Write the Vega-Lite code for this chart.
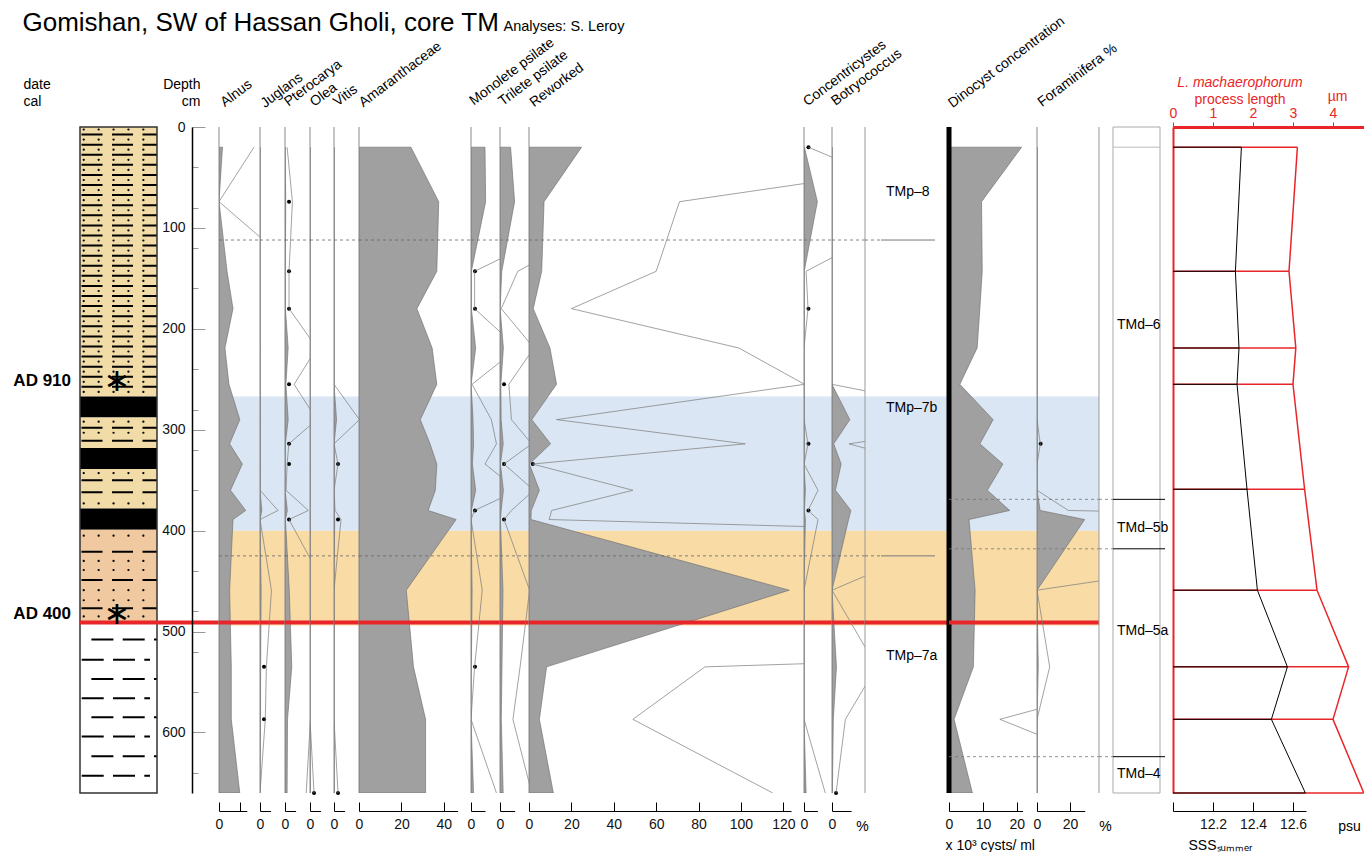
{
"$schema":"https://vega.github.io/schema/vega-lite/v6.json",
"padding":{"left":13,"top":9,"right":0,"bottom":0},
"spacing":0,
"bounds":"flush",
"resolve":{"scale":{"fill":"independent"}},
"config":{
 "font":"Liberation Sans",
 "view":{"stroke":null},
 "axis":{"grid":false,"labelFontSize":14,"labelColor":"#111","domainColor":"#000","tickColor":"#000","titleFontWeight":"normal","titleFontSize":14,"titleColor":"#000","labelFlush":false,"labelOverlap":false,"labelBound":false},
 "axisBottom":{"offset":18,"tickSize":-9,"labelPadding":15},
 "title":{"anchor":"start","frame":"group","angle":-37,"align":"left","baseline":"alphabetic","fontSize":14,"fontWeight":"normal","offset":16,"color":"#000"}
},
"datasets":{
 "s":[
  {"d":20,"Alnus":1.65,"Juglans":0,"Pterocarya":0.1,"Olea":0,"Vitis":0,"Amaranthaceae":24.5,"Monolete":6.6,"Trilete":5.0,"Reworked":24.8,"Concentricystes":0.2,"Botryococcus":0,"Dinocyst":21.4,"Foraminifera":0},
  {"d":74,"Alnus":0,"Juglans":0,"Pterocarya":0.35,"Olea":0,"Vitis":0,"Amaranthaceae":37.6,"Monolete":6.9,"Trilete":6.9,"Reworked":7.1,"Concentricystes":6.3,"Botryococcus":0,"Dinocyst":9.6,"Foraminifera":0},
  {"d":143,"Alnus":3.8,"Juglans":0,"Pterocarya":0.19,"Olea":0,"Vitis":0,"Amaranthaceae":36.7,"Monolete":0.17,"Trilete":0.84,"Reworked":6.0,"Concentricystes":0.1,"Botryococcus":0,"Dinocyst":9.8,"Foraminifera":0},
  {"d":180,"Alnus":6.6,"Juglans":0,"Pterocarya":0.19,"Olea":0,"Vitis":0,"Amaranthaceae":27.3,"Monolete":0.17,"Trilete":0.06,"Reworked":2.0,"Concentricystes":0.19,"Botryococcus":0,"Dinocyst":9.1,"Foraminifera":0},
  {"d":219,"Alnus":2.8,"Juglans":0,"Pterocarya":1.5,"Olea":0,"Vitis":0,"Amaranthaceae":34.5,"Monolete":2.2,"Trilete":1.6,"Reworked":9.9,"Concentricystes":0,"Botryococcus":0,"Dinocyst":8.3,"Foraminifera":0},
  {"d":255,"Alnus":4.7,"Juglans":0,"Pterocarya":0.43,"Olea":0,"Vitis":0,"Amaranthaceae":36.7,"Monolete":0.05,"Trilete":0.42,"Reworked":13.0,"Concentricystes":0,"Botryococcus":0,"Dinocyst":3.2,"Foraminifera":0},
  {"d":290,"Alnus":9.8,"Juglans":0,"Pterocarya":1.5,"Olea":0,"Vitis":1.2,"Amaranthaceae":28.9,"Monolete":0.96,"Trilete":0.54,"Reworked":1.3,"Concentricystes":0,"Botryococcus":8.4,"Dinocyst":13.0,"Foraminifera":0},
  {"d":314,"Alnus":5.0,"Juglans":0,"Pterocarya":0.18,"Olea":0,"Vitis":0,"Amaranthaceae":33.5,"Monolete":1.2,"Trilete":1.5,"Reworked":10.2,"Concentricystes":0.19,"Botryococcus":0.8,"Dinocyst":9.1,"Foraminifera":0.2},
  {"d":334,"Alnus":11.0,"Juglans":0,"Pterocarya":0.1,"Olea":0,"Vitis":0.19,"Amaranthaceae":36.7,"Monolete":0.66,"Trilete":0.19,"Reworked":0.17,"Concentricystes":0,"Botryococcus":4.3,"Dinocyst":15.9,"Foraminifera":0},
  {"d":360,"Alnus":5.4,"Juglans":0,"Pterocarya":0.05,"Olea":0,"Vitis":0,"Amaranthaceae":36.0,"Monolete":2.2,"Trilete":1.6,"Reworked":4.9,"Concentricystes":0.66,"Botryococcus":1.6,"Dinocyst":11.3,"Foraminifera":0},
  {"d":380,"Alnus":12.6,"Juglans":0.85,"Pterocarya":1.1,"Olea":0,"Vitis":0.05,"Amaranthaceae":32.6,"Monolete":0.17,"Trilete":0.54,"Reworked":1.07,"Concentricystes":0.19,"Botryococcus":8.9,"Dinocyst":17.9,"Foraminifera":1.9},
  {"d":389,"Alnus":6.6,"Juglans":0,"Pterocarya":0.19,"Olea":0,"Vitis":0.33,"Amaranthaceae":45.8,"Monolete":0,"Trilete":0.19,"Reworked":0.95,"Concentricystes":0.66,"Botryococcus":7.8,"Dinocyst":5.9,"Foraminifera":28.9},
  {"d":459,"Alnus":5.0,"Juglans":0.54,"Pterocarya":2.0,"Olea":0,"Vitis":0,"Amaranthaceae":22.3,"Monolete":0.53,"Trilete":1.4,"Reworked":122.8,"Concentricystes":0,"Botryococcus":0,"Dinocyst":7.7,"Foraminifera":0},
  {"d":535,"Alnus":5.8,"Juglans":0.3,"Pterocarya":3.2,"Olea":0,"Vitis":0,"Amaranthaceae":25.7,"Monolete":0.17,"Trilete":0.95,"Reworked":8.3,"Concentricystes":0,"Botryococcus":2.1,"Dinocyst":7.2,"Foraminifera":0.77},
  {"d":587,"Alnus":5.8,"Juglans":0.25,"Pterocarya":1.2,"Olea":0,"Vitis":0,"Amaranthaceae":31.4,"Monolete":0,"Trilete":0.61,"Reworked":4.9,"Concentricystes":0,"Botryococcus":0.63,"Dinocyst":1.5,"Foraminifera":0},
  {"d":660,"Alnus":9.8,"Juglans":0,"Pterocarya":1.0,"Olea":0.19,"Vitis":0.19,"Amaranthaceae":31.4,"Monolete":1.2,"Trilete":1.5,"Reworked":11.5,"Concentricystes":1.0,"Botryococcus":0.19,"Dinocyst":6.9,"Foraminifera":0}
 ],
 "tr":[
  {"t":"Juglans","d":535},{"t":"Juglans","d":587},
  {"t":"Pterocarya","d":74},{"t":"Pterocarya","d":143},{"t":"Pterocarya","d":180},{"t":"Pterocarya","d":255},{"t":"Pterocarya","d":314},{"t":"Pterocarya","d":334},{"t":"Pterocarya","d":389},
  {"t":"Olea","d":660},
  {"t":"Vitis","d":334},{"t":"Vitis","d":389},{"t":"Vitis","d":660},
  {"t":"Monolete","d":143},{"t":"Monolete","d":180},{"t":"Monolete","d":380},{"t":"Monolete","d":535},
  {"t":"Trilete","d":255},{"t":"Trilete","d":334},{"t":"Trilete","d":389},
  {"t":"Reworked","d":334},
  {"t":"Concentricystes","d":20},{"t":"Concentricystes","d":180},{"t":"Concentricystes","d":314},{"t":"Concentricystes","d":380},
  {"t":"Botryococcus","d":660},
  {"t":"Foraminifera","d":314}
 ],
 "bands":[{"k":"a","top":267,"bot":400},{"k":"b","top":400,"bot":494}],
 "hz":[{"d":491}],
 "tmpb":[{"d":112},{"d":425}],
 "tmdb":[{"d":369},{"d":418},{"d":624}],
 "tmpz":[{"d":64,"z":"TMp–8"},{"d":278,"z":"TMp–7b"},{"d":524,"z":"TMp–7a"}],
 "tmdz":[{"d":196,"z":"TMd–6"},{"d":397,"z":"TMd–5b"},{"d":499,"z":"TMd–5a"},{"d":641,"z":"TMd–4"}],
 "dates":[{"d":252,"z":"AD 910"},{"d":483,"z":"AD 400"}],
 "lith":[{"top":0,"bot":267,"k":"silt"},{"top":267,"bot":288,"k":"dark"},{"top":288,"bot":318,"k":"silt"},{"top":318,"bot":339,"k":"dark"},{"top":339,"bot":378,"k":"silt"},{"top":378,"bot":399,"k":"dark"},{"top":399,"bot":492,"k":"sand"},{"top":492,"bot":660,"k":"clay"}],
 "pat":[
  {"d":2.5,"k":"o"},{"d":12.5,"k":"o"},{"d":22.5,"k":"o"},{"d":32.5,"k":"o"},{"d":42.5,"k":"o"},{"d":52.5,"k":"o"},{"d":62.5,"k":"o"},{"d":72.5,"k":"o"},{"d":82.5,"k":"o"},{"d":92.5,"k":"o"},{"d":102.5,"k":"o"},{"d":112.5,"k":"o"},{"d":122.5,"k":"o"},{"d":132.5,"k":"o"},{"d":142.5,"k":"o"},{"d":152.5,"k":"o"},{"d":162.5,"k":"o"},{"d":172.5,"k":"o"},{"d":182.5,"k":"o"},{"d":192.5,"k":"o"},{"d":202.5,"k":"o"},{"d":212.5,"k":"o"},{"d":222.5,"k":"o"},{"d":232.5,"k":"o"},{"d":242.5,"k":"o"},{"d":252.5,"k":"o"},{"d":262.5,"k":"o"},
  {"d":292,"k":"o"},{"d":303,"k":"o"},{"d":343,"k":"o"},{"d":373,"k":"o"},{"d":405,"k":"o"},{"d":430,"k":"o"},{"d":439,"k":"o"},{"d":459,"k":"o"},{"d":469,"k":"o"},{"d":485,"k":"o"},
  {"d":7.5,"k":"s"},{"d":17.5,"k":"s"},{"d":27.5,"k":"s"},{"d":37.5,"k":"s"},{"d":47.5,"k":"s"},{"d":57.5,"k":"s"},{"d":67.5,"k":"s"},{"d":77.5,"k":"s"},{"d":87.5,"k":"s"},{"d":97.5,"k":"s"},{"d":107.5,"k":"s"},{"d":117.5,"k":"s"},{"d":127.5,"k":"s"},{"d":137.5,"k":"s"},{"d":147.5,"k":"s"},{"d":157.5,"k":"s"},{"d":167.5,"k":"s"},{"d":177.5,"k":"s"},{"d":187.5,"k":"s"},{"d":197.5,"k":"s"},{"d":207.5,"k":"s"},{"d":217.5,"k":"s"},{"d":227.5,"k":"s"},{"d":237.5,"k":"s"},{"d":247.5,"k":"s"},{"d":257.5,"k":"s"},
  {"d":298,"k":"s"},{"d":311,"k":"s"},{"d":350,"k":"s"},{"d":362,"k":"s"},{"d":421,"k":"s"},{"d":449,"k":"s"},{"d":477,"k":"s"},
  {"d":508,"k":"a"},{"d":547,"k":"a"},{"d":585,"k":"a"},{"d":623.5,"k":"a"},
  {"d":528,"k":"b"},{"d":566,"k":"b"},{"d":604,"k":"b"},{"d":643,"k":"b"}
 ],
 "sal":[{"d":20,"psl":3.11,"sss":12.342},{"d":143,"psl":2.9,"sss":12.312},{"d":219,"psl":3.07,"sss":12.33},{"d":255,"psl":3.0,"sss":12.32},{"d":359,"psl":3.29,"sss":12.37},{"d":459,"psl":3.6,"sss":12.422},{"d":535,"psl":4.39,"sss":12.572},{"d":587,"psl":4.0,"sss":12.492},{"d":660,"psl":4.77,"sss":12.662}]
},
"hconcat":[
 {"width":139,"height":666,
  "layer":[
   {"data":{"name":"lith"},"mark":{"type":"rect","strokeWidth":0},"encoding":{"x":{"datum":0,"type":"quantitative","scale":{"domain":[0,139],"nice":false},"axis":{"orient":"top","domain":false,"ticks":false,"labels":false,"title":"Gomishan, SW of Hassan Gholi, core TM","titleFontSize":26,"titleX":-58,"titleY":-97,"titleAlign":"left","titleBaseline":"alphabetic","titleAngle":0}},"x2":{"datum":77},"y":{"field":"top","type":"quantitative","scale":{"domain":[0,660],"reverse":true,"nice":false,"zero":false},"axis":{"orient":"right","offset":-27,"values":[0,10,20,30,40,50,60,70,80,90,100,110,120,130,140,150,160,170,180,190,200,210,220,230,240,250,260,270,280,290,300,310,320,330,340,350,360,370,380,390,400,410,420,430,440,450,460,470,480,490,500,510,520,530,540,550,560,570,580,590,600,610,620,630,640,650,660],"tickSize":6,"tickColor":"#999","labels":false,"domain":false,"title":["date","cal"],"titleAngle":0,"titleAlign":"left","titleBaseline":"alphabetic","titleX":-169,"titleY":-39,"titleLineHeight":17}},"y2":{"field":"bot"},"fill":{"field":"k","type":"nominal","scale":{"domain":["silt","dark","sand","clay"],"range":["#f1dba6","#000000","#f0c9a0","#ffffff"]},"legend":null}}},
   {"data":{"name":"pat"},"transform":[{"filter":"datum.k == 'o'"}],"mark":{"type":"rule","color":"#000","strokeWidth":2.2,"strokeCap":"round","strokeDash":[0.1,14.8]},"encoding":{"x":{"datum":3.7,"type":"quantitative"},"x2":{"datum":77},"y":{"field":"d","type":"quantitative"}}},
   {"data":{"name":"pat"},"transform":[{"filter":"datum.k == 's'"}],"mark":{"type":"rule","color":"#000","strokeWidth":2,"strokeDash":[21,9.5]},"encoding":{"x":{"datum":1.5,"type":"quantitative"},"x2":{"datum":77},"y":{"field":"d","type":"quantitative"}}},
   {"data":{"name":"pat"},"transform":[{"filter":"datum.k == 'a'"}],"mark":{"type":"rule","color":"#000","strokeWidth":2,"strokeDash":[22,9.3]},"encoding":{"x":{"datum":11.4,"type":"quantitative"},"x2":{"datum":77},"y":{"field":"d","type":"quantitative"}}},
   {"data":{"name":"pat"},"transform":[{"filter":"datum.k == 'b'"}],"mark":{"type":"rule","color":"#000","strokeWidth":2,"strokeDash":[22,9.3]},"encoding":{"x":{"datum":1.7,"type":"quantitative"},"x2":{"datum":70},"y":{"field":"d","type":"quantitative"}}},
   {"data":{"values":[{}]},"mark":{"type":"rect","fill":"transparent","stroke":"#333","strokeWidth":1.5},"encoding":{"x":{"datum":0,"type":"quantitative"},"x2":{"datum":77},"y":{"datum":0,"type":"quantitative"},"y2":{"datum":660}}},
   {"data":{"name":"hz"},"mark":{"type":"rule","color":"#e8262a","strokeWidth":4},"encoding":{"x":{"datum":0,"type":"quantitative"},"x2":{"datum":139},"y":{"field":"d","type":"quantitative"}}},
   {"data":{"name":"dates"},"mark":{"type":"text","align":"right","baseline":"middle","dx":-9,"fontSize":17,"fontWeight":"bold","color":"#000"},"encoding":{"x":{"datum":0,"type":"quantitative"},"y":{"field":"d","type":"quantitative"},"text":{"field":"z"}}},
   {"data":{"name":"dates"},"mark":{"type":"text","align":"center","baseline":"middle","font":"DejaVu Sans","fontSize":32,"color":"#000"},"encoding":{"x":{"datum":37,"type":"quantitative"},"y":{"field":"d","type":"quantitative"},"text":{"value":"∗"}}}
  ]},
 {"width":41,"height":666,"title":{"text":"Alnus","dx":-1,"offset":-53},"resolve":{"scale":{"x":"independent"}},
  "layer":[
   {"layer":[
    {"data":{"name":"bands"},"mark":{"type":"rect","strokeWidth":0},"encoding":{"x":{"datum":0,"type":"quantitative","scale":{"domain":[0,13.1],"range":[0,27.8],"nice":false},"axis":{"values":[0,10],"labelExpr":"datum.value == 0 ? '0' : ''","title":null}},"x2":{"datum":19.32},"y":{"field":"top","type":"quantitative","scale":{"domain":[0,660],"reverse":true,"nice":false,"zero":false},"axis":{"orient":"left","offset":27,"values":[0,100,200,300,400,500,600],"tickSize":-13,"tickColor":"#999","domainColor":"#000","domainWidth":1.5,"labelPadding":20,"title":["Depth","cm"],"titleAngle":0,"titleAlign":"right","titleBaseline":"alphabetic","titleX":8,"titleY":-39,"titleLineHeight":17}},"y2":{"field":"bot"},"fill":{"field":"k","type":"nominal","scale":{"domain":["a","b"],"range":["#dae6f3","#f9dba6"]},"legend":null}}},
    {"data":{"name":"s"},"mark":{"type":"area","orient":"horizontal","clip":true,"fill":"#a0a0a0","stroke":"#6a6a6a","strokeWidth":0.6},"encoding":{"x":{"field":"Alnus","type":"quantitative","stack":null},"y":{"field":"d","type":"quantitative"}}},
    {"data":{"values":[{}]},"mark":{"type":"rule","color":"#8a8a8a","strokeWidth":1},"encoding":{"x":{"datum":0,"type":"quantitative"},"y":{"datum":0,"type":"quantitative"},"y2":{"datum":660}}},
    {"data":{"name":"tmpb"},"mark":{"type":"rule","color":"#666","strokeWidth":0.8,"strokeDash":[3,3]},"encoding":{"x":{"datum":0,"type":"quantitative"},"x2":{"datum":19.32},"y":{"field":"d","type":"quantitative"}}},
    {"data":{"name":"hz"},"mark":{"type":"rule","color":"#e8262a","strokeWidth":4},"encoding":{"x":{"datum":0,"type":"quantitative"},"x2":{"datum":19.32},"y":{"field":"d","type":"quantitative"}}}
   ]},
   {"data":{"name":"s"},"mark":{"type":"line","clip":true,"color":"#7a7a7a","strokeWidth":0.7},"encoding":{"x":{"field":"Alnus","type":"quantitative","scale":{"domain":[0,1.31],"range":[0,27.8],"nice":false},"axis":null},"y":{"field":"d","type":"quantitative"},"order":{"field":"d","type":"quantitative"}}}
  ]},
 {"width":25,"height":666,"title":{"text":"Juglans","dx":-2,"offset":-12},"resolve":{"scale":{"x":"independent"}},
  "layer":[
   {"layer":[
    {"data":{"name":"bands"},"mark":{"type":"rect","strokeWidth":0},"encoding":{"x":{"datum":0,"type":"quantitative","scale":{"domain":[0,5],"range":[0,10.6],"nice":false},"axis":{"values":[0],"title":null}},"x2":{"datum":11.79},"y":{"field":"top","type":"quantitative","scale":{"domain":[0,660],"reverse":true,"nice":false,"zero":false},"axis":null},"y2":{"field":"bot"},"fill":{"field":"k","type":"nominal","scale":{"domain":["a","b"],"range":["#dae6f3","#f9dba6"]},"legend":null}}},
    {"data":{"name":"s"},"mark":{"type":"area","orient":"horizontal","clip":true,"fill":"#a0a0a0","stroke":"#6a6a6a","strokeWidth":0.6},"encoding":{"x":{"field":"Juglans","type":"quantitative","stack":null},"y":{"field":"d","type":"quantitative"}}},
    {"data":{"values":[{}]},"mark":{"type":"rule","color":"#8a8a8a","strokeWidth":1},"encoding":{"x":{"datum":0,"type":"quantitative"},"y":{"datum":0,"type":"quantitative"},"y2":{"datum":660}}},
    {"data":{"name":"tr"},"transform":[{"filter":"datum.t == 'Juglans'"}],"mark":{"type":"circle","color":"#000","size":16,"opacity":1},"encoding":{"x":{"datum":1.9,"type":"quantitative"},"y":{"field":"d","type":"quantitative"}}},
    {"data":{"name":"tmpb"},"mark":{"type":"rule","color":"#666","strokeWidth":0.8,"strokeDash":[3,3]},"encoding":{"x":{"datum":0,"type":"quantitative"},"x2":{"datum":11.79},"y":{"field":"d","type":"quantitative"}}},
    {"data":{"name":"hz"},"mark":{"type":"rule","color":"#e8262a","strokeWidth":4},"encoding":{"x":{"datum":0,"type":"quantitative"},"x2":{"datum":11.79},"y":{"field":"d","type":"quantitative"}}}
   ]},
   {"data":{"name":"s"},"mark":{"type":"line","clip":true,"color":"#7a7a7a","strokeWidth":0.7},"encoding":{"x":{"field":"Juglans","type":"quantitative","scale":{"domain":[0,0.5],"range":[0,10.6],"nice":false},"axis":null},"y":{"field":"d","type":"quantitative"},"order":{"field":"d","type":"quantitative"}}}
  ]},
 {"width":25,"height":666,"title":{"text":"Pterocarya","dx":-4,"offset":-21},"resolve":{"scale":{"x":"independent"}},
  "layer":[
   {"layer":[
    {"data":{"name":"bands"},"mark":{"type":"rect","strokeWidth":0},"encoding":{"x":{"datum":0,"type":"quantitative","scale":{"domain":[0,5],"range":[0,10.6],"nice":false},"axis":{"values":[0],"title":null}},"x2":{"datum":11.79},"y":{"field":"top","type":"quantitative","scale":{"domain":[0,660],"reverse":true,"nice":false,"zero":false},"axis":null},"y2":{"field":"bot"},"fill":{"field":"k","type":"nominal","scale":{"domain":["a","b"],"range":["#dae6f3","#f9dba6"]},"legend":null}}},
    {"data":{"name":"s"},"mark":{"type":"area","orient":"horizontal","clip":true,"fill":"#a0a0a0","stroke":"#6a6a6a","strokeWidth":0.6},"encoding":{"x":{"field":"Pterocarya","type":"quantitative","stack":null},"y":{"field":"d","type":"quantitative"}}},
    {"data":{"values":[{}]},"mark":{"type":"rule","color":"#8a8a8a","strokeWidth":1},"encoding":{"x":{"datum":0,"type":"quantitative"},"y":{"datum":0,"type":"quantitative"},"y2":{"datum":660}}},
    {"data":{"name":"tr"},"transform":[{"filter":"datum.t == 'Pterocarya'"}],"mark":{"type":"circle","color":"#000","size":16,"opacity":1},"encoding":{"x":{"datum":1.9,"type":"quantitative"},"y":{"field":"d","type":"quantitative"}}},
    {"data":{"name":"tmpb"},"mark":{"type":"rule","color":"#666","strokeWidth":0.8,"strokeDash":[3,3]},"encoding":{"x":{"datum":0,"type":"quantitative"},"x2":{"datum":11.79},"y":{"field":"d","type":"quantitative"}}},
    {"data":{"name":"hz"},"mark":{"type":"rule","color":"#e8262a","strokeWidth":4},"encoding":{"x":{"datum":0,"type":"quantitative"},"x2":{"datum":11.79},"y":{"field":"d","type":"quantitative"}}}
   ]},
   {"data":{"name":"s"},"mark":{"type":"line","clip":true,"color":"#7a7a7a","strokeWidth":0.7},"encoding":{"x":{"field":"Pterocarya","type":"quantitative","scale":{"domain":[0,0.5],"range":[0,10.6],"nice":false},"axis":null},"y":{"field":"d","type":"quantitative"},"order":{"field":"d","type":"quantitative"}}}
  ]},
 {"width":24,"height":666,"title":{"text":"Olea","dx":-3,"offset":1},"resolve":{"scale":{"x":"independent"}},
  "layer":[
   {"layer":[
    {"data":{"name":"bands"},"mark":{"type":"rect","strokeWidth":0},"encoding":{"x":{"datum":0,"type":"quantitative","scale":{"domain":[0,5],"range":[0,10.6],"nice":false},"axis":{"values":[0],"title":null}},"x2":{"datum":11.32},"y":{"field":"top","type":"quantitative","scale":{"domain":[0,660],"reverse":true,"nice":false,"zero":false},"axis":null},"y2":{"field":"bot"},"fill":{"field":"k","type":"nominal","scale":{"domain":["a","b"],"range":["#dae6f3","#f9dba6"]},"legend":null}}},
    {"data":{"name":"s"},"mark":{"type":"area","orient":"horizontal","clip":true,"fill":"#a0a0a0","stroke":"#6a6a6a","strokeWidth":0.6},"encoding":{"x":{"field":"Olea","type":"quantitative","stack":null},"y":{"field":"d","type":"quantitative"}}},
    {"data":{"values":[{}]},"mark":{"type":"rule","color":"#8a8a8a","strokeWidth":1},"encoding":{"x":{"datum":0,"type":"quantitative"},"y":{"datum":0,"type":"quantitative"},"y2":{"datum":660}}},
    {"data":{"name":"tr"},"transform":[{"filter":"datum.t == 'Olea'"}],"mark":{"type":"circle","color":"#000","size":16,"opacity":1},"encoding":{"x":{"datum":1.9,"type":"quantitative"},"y":{"field":"d","type":"quantitative"}}},
    {"data":{"name":"tmpb"},"mark":{"type":"rule","color":"#666","strokeWidth":0.8,"strokeDash":[3,3]},"encoding":{"x":{"datum":0,"type":"quantitative"},"x2":{"datum":11.32},"y":{"field":"d","type":"quantitative"}}},
    {"data":{"name":"hz"},"mark":{"type":"rule","color":"#e8262a","strokeWidth":4},"encoding":{"x":{"datum":0,"type":"quantitative"},"x2":{"datum":11.32},"y":{"field":"d","type":"quantitative"}}}
   ]},
   {"data":{"name":"s"},"mark":{"type":"line","clip":true,"color":"#7a7a7a","strokeWidth":0.7},"encoding":{"x":{"field":"Olea","type":"quantitative","scale":{"domain":[0,0.5],"range":[0,10.6],"nice":false},"axis":null},"y":{"field":"d","type":"quantitative"},"order":{"field":"d","type":"quantitative"}}}
  ]},
 {"width":25,"height":666,"title":{"text":"Vitis","dx":-4,"offset":4},"resolve":{"scale":{"x":"independent"}},
  "layer":[
   {"layer":[
    {"data":{"name":"bands"},"mark":{"type":"rect","strokeWidth":0},"encoding":{"x":{"datum":0,"type":"quantitative","scale":{"domain":[0,5],"range":[0,10.6],"nice":false},"axis":{"values":[0],"title":null}},"x2":{"datum":11.79},"y":{"field":"top","type":"quantitative","scale":{"domain":[0,660],"reverse":true,"nice":false,"zero":false},"axis":null},"y2":{"field":"bot"},"fill":{"field":"k","type":"nominal","scale":{"domain":["a","b"],"range":["#dae6f3","#f9dba6"]},"legend":null}}},
    {"data":{"name":"s"},"mark":{"type":"area","orient":"horizontal","clip":true,"fill":"#a0a0a0","stroke":"#6a6a6a","strokeWidth":0.6},"encoding":{"x":{"field":"Vitis","type":"quantitative","stack":null},"y":{"field":"d","type":"quantitative"}}},
    {"data":{"values":[{}]},"mark":{"type":"rule","color":"#8a8a8a","strokeWidth":1},"encoding":{"x":{"datum":0,"type":"quantitative"},"y":{"datum":0,"type":"quantitative"},"y2":{"datum":660}}},
    {"data":{"name":"tr"},"transform":[{"filter":"datum.t == 'Vitis'"}],"mark":{"type":"circle","color":"#000","size":16,"opacity":1},"encoding":{"x":{"datum":1.9,"type":"quantitative"},"y":{"field":"d","type":"quantitative"}}},
    {"data":{"name":"tmpb"},"mark":{"type":"rule","color":"#666","strokeWidth":0.8,"strokeDash":[3,3]},"encoding":{"x":{"datum":0,"type":"quantitative"},"x2":{"datum":11.79},"y":{"field":"d","type":"quantitative"}}},
    {"data":{"name":"hz"},"mark":{"type":"rule","color":"#e8262a","strokeWidth":4},"encoding":{"x":{"datum":0,"type":"quantitative"},"x2":{"datum":11.79},"y":{"field":"d","type":"quantitative"}}}
   ]},
   {"data":{"name":"s"},"mark":{"type":"line","clip":true,"color":"#7a7a7a","strokeWidth":0.7},"encoding":{"x":{"field":"Vitis","type":"quantitative","scale":{"domain":[0,0.5],"range":[0,10.6],"nice":false},"axis":null},"y":{"field":"d","type":"quantitative"},"order":{"field":"d","type":"quantitative"}}}
  ]},
 {"width":112,"height":666,"title":{"text":"Amaranthaceae","dx":-3,"offset":-41},
  "layer":[
   {"data":{"name":"bands"},"mark":{"type":"rect","strokeWidth":0},"encoding":{"x":{"datum":0,"type":"quantitative","scale":{"domain":[0,46.5],"range":[0,98.6],"nice":false},"axis":{"values":[0,10,20,30,40],"labelExpr":"datum.value % 20 == 0 ? datum.label : ''","title":null}},"x2":{"datum":52.83},"y":{"field":"top","type":"quantitative","scale":{"domain":[0,660],"reverse":true,"nice":false,"zero":false},"axis":null},"y2":{"field":"bot"},"fill":{"field":"k","type":"nominal","scale":{"domain":["a","b"],"range":["#dae6f3","#f9dba6"]},"legend":null}}},
   {"data":{"name":"s"},"mark":{"type":"area","orient":"horizontal","clip":true,"fill":"#a0a0a0","stroke":"#6a6a6a","strokeWidth":0.6},"encoding":{"x":{"field":"Amaranthaceae","type":"quantitative","stack":null},"y":{"field":"d","type":"quantitative"}}},
   {"data":{"values":[{}]},"mark":{"type":"rule","color":"#8a8a8a","strokeWidth":1},"encoding":{"x":{"datum":0,"type":"quantitative"},"y":{"datum":0,"type":"quantitative"},"y2":{"datum":660}}},
   {"data":{"name":"tmpb"},"mark":{"type":"rule","color":"#666","strokeWidth":0.8,"strokeDash":[3,3]},"encoding":{"x":{"datum":0,"type":"quantitative"},"x2":{"datum":52.83},"y":{"field":"d","type":"quantitative"}}},
   {"data":{"name":"hz"},"mark":{"type":"rule","color":"#e8262a","strokeWidth":4},"encoding":{"x":{"datum":0,"type":"quantitative"},"x2":{"datum":52.83},"y":{"field":"d","type":"quantitative"}}}
  ]},
 {"width":29,"height":666,"title":{"text":"Monolete psilate","dx":-5,"offset":-40},"resolve":{"scale":{"x":"independent"}},
  "layer":[
   {"layer":[
    {"data":{"name":"bands"},"mark":{"type":"rect","strokeWidth":0},"encoding":{"x":{"datum":0,"type":"quantitative","scale":{"domain":[0,6.6],"range":[0,14],"nice":false},"axis":{"values":[0],"title":null}},"x2":{"datum":13.67},"y":{"field":"top","type":"quantitative","scale":{"domain":[0,660],"reverse":true,"nice":false,"zero":false},"axis":null},"y2":{"field":"bot"},"fill":{"field":"k","type":"nominal","scale":{"domain":["a","b"],"range":["#dae6f3","#f9dba6"]},"legend":null}}},
    {"data":{"name":"s"},"mark":{"type":"area","orient":"horizontal","clip":true,"fill":"#a0a0a0","stroke":"#6a6a6a","strokeWidth":0.6},"encoding":{"x":{"field":"Monolete","type":"quantitative","stack":null},"y":{"field":"d","type":"quantitative"}}},
    {"data":{"values":[{}]},"mark":{"type":"rule","color":"#8a8a8a","strokeWidth":1},"encoding":{"x":{"datum":0,"type":"quantitative"},"y":{"datum":0,"type":"quantitative"},"y2":{"datum":660}}},
    {"data":{"name":"tr"},"transform":[{"filter":"datum.t == 'Monolete'"}],"mark":{"type":"circle","color":"#000","size":16,"opacity":1},"encoding":{"x":{"datum":1.9,"type":"quantitative"},"y":{"field":"d","type":"quantitative"}}},
    {"data":{"name":"tmpb"},"mark":{"type":"rule","color":"#666","strokeWidth":0.8,"strokeDash":[3,3]},"encoding":{"x":{"datum":0,"type":"quantitative"},"x2":{"datum":13.67},"y":{"field":"d","type":"quantitative"}}},
    {"data":{"name":"hz"},"mark":{"type":"rule","color":"#e8262a","strokeWidth":4},"encoding":{"x":{"datum":0,"type":"quantitative"},"x2":{"datum":13.67},"y":{"field":"d","type":"quantitative"}}}
   ]},
   {"data":{"name":"s"},"mark":{"type":"line","clip":true,"color":"#7a7a7a","strokeWidth":0.7},"encoding":{"x":{"field":"Monolete","type":"quantitative","scale":{"domain":[0,0.66],"range":[0,14],"nice":false},"axis":null},"y":{"field":"d","type":"quantitative"},"order":{"field":"d","type":"quantitative"}}}
  ]},
 {"width":29,"height":666,"title":{"text":"Trilete psilate","dx":-5,"offset":-29},"resolve":{"scale":{"x":"independent"}},
  "layer":[
   {"layer":[
    {"data":{"name":"bands"},"mark":{"type":"rect","strokeWidth":0},"encoding":{"x":{"datum":0,"type":"quantitative","scale":{"domain":[0,6.9],"range":[0,14.6],"nice":false},"axis":{"values":[0],"title":null}},"x2":{"datum":13.71},"y":{"field":"top","type":"quantitative","scale":{"domain":[0,660],"reverse":true,"nice":false,"zero":false},"axis":null},"y2":{"field":"bot"},"fill":{"field":"k","type":"nominal","scale":{"domain":["a","b"],"range":["#dae6f3","#f9dba6"]},"legend":null}}},
    {"data":{"name":"s"},"mark":{"type":"area","orient":"horizontal","clip":true,"fill":"#a0a0a0","stroke":"#6a6a6a","strokeWidth":0.6},"encoding":{"x":{"field":"Trilete","type":"quantitative","stack":null},"y":{"field":"d","type":"quantitative"}}},
    {"data":{"values":[{}]},"mark":{"type":"rule","color":"#8a8a8a","strokeWidth":1},"encoding":{"x":{"datum":0,"type":"quantitative"},"y":{"datum":0,"type":"quantitative"},"y2":{"datum":660}}},
    {"data":{"name":"tr"},"transform":[{"filter":"datum.t == 'Trilete'"}],"mark":{"type":"circle","color":"#000","size":16,"opacity":1},"encoding":{"x":{"datum":1.9,"type":"quantitative"},"y":{"field":"d","type":"quantitative"}}},
    {"data":{"name":"tmpb"},"mark":{"type":"rule","color":"#666","strokeWidth":0.8,"strokeDash":[3,3]},"encoding":{"x":{"datum":0,"type":"quantitative"},"x2":{"datum":13.71},"y":{"field":"d","type":"quantitative"}}},
    {"data":{"name":"hz"},"mark":{"type":"rule","color":"#e8262a","strokeWidth":4},"encoding":{"x":{"datum":0,"type":"quantitative"},"x2":{"datum":13.71},"y":{"field":"d","type":"quantitative"}}}
   ]},
   {"data":{"name":"s"},"mark":{"type":"line","clip":true,"color":"#7a7a7a","strokeWidth":0.7},"encoding":{"x":{"field":"Trilete","type":"quantitative","scale":{"domain":[0,0.69],"range":[0,14.6],"nice":false},"axis":null},"y":{"field":"d","type":"quantitative"},"order":{"field":"d","type":"quantitative"}}}
  ]},
 {"width":275,"height":666,"title":{"text":"Reworked","dx":-2,"offset":-20},"resolve":{"scale":{"x":"independent"}},
  "layer":[
   {"layer":[
    {"data":{"name":"bands"},"mark":{"type":"rect","strokeWidth":0},"encoding":{"x":{"datum":0,"type":"quantitative","scale":{"domain":[0,123.6],"range":[0,262],"nice":false},"axis":{"values":[0,10,20,30,40,50,60,70,80,90,100,110,120],"labelExpr":"datum.value % 20 == 0 ? datum.label : ''","title":null}},"x2":{"datum":129.7},"y":{"field":"top","type":"quantitative","scale":{"domain":[0,660],"reverse":true,"nice":false,"zero":false},"axis":null},"y2":{"field":"bot"},"fill":{"field":"k","type":"nominal","scale":{"domain":["a","b"],"range":["#dae6f3","#f9dba6"]},"legend":null}}},
    {"data":{"name":"s"},"mark":{"type":"area","orient":"horizontal","clip":true,"fill":"#a0a0a0","stroke":"#6a6a6a","strokeWidth":0.6},"encoding":{"x":{"field":"Reworked","type":"quantitative","stack":null},"y":{"field":"d","type":"quantitative"}}},
    {"data":{"values":[{}]},"mark":{"type":"rule","color":"#8a8a8a","strokeWidth":1},"encoding":{"x":{"datum":0,"type":"quantitative"},"y":{"datum":0,"type":"quantitative"},"y2":{"datum":660}}},
    {"data":{"name":"tr"},"transform":[{"filter":"datum.t == 'Reworked'"}],"mark":{"type":"circle","color":"#000","size":16,"opacity":1},"encoding":{"x":{"datum":1.8,"type":"quantitative"},"y":{"field":"d","type":"quantitative"}}},
    {"data":{"name":"tmpb"},"mark":{"type":"rule","color":"#666","strokeWidth":0.8,"strokeDash":[3,3]},"encoding":{"x":{"datum":0,"type":"quantitative"},"x2":{"datum":129.7},"y":{"field":"d","type":"quantitative"}}},
    {"data":{"name":"hz"},"mark":{"type":"rule","color":"#e8262a","strokeWidth":4},"encoding":{"x":{"datum":0,"type":"quantitative"},"x2":{"datum":129.7},"y":{"field":"d","type":"quantitative"}}}
   ]},
   {"data":{"name":"s"},"mark":{"type":"line","clip":true,"color":"#7a7a7a","strokeWidth":0.7},"encoding":{"x":{"field":"Reworked","type":"quantitative","scale":{"domain":[0,12.36],"range":[0,262],"nice":false},"axis":null},"y":{"field":"d","type":"quantitative"},"order":{"field":"d","type":"quantitative"}}}
  ]},
 {"width":28,"height":666,"title":{"text":"Concentricystes","dx":-4,"offset":-40},"resolve":{"scale":{"x":"independent"}},
  "layer":[
   {"layer":[
    {"data":{"name":"bands"},"mark":{"type":"rect","strokeWidth":0},"encoding":{"x":{"datum":0,"type":"quantitative","scale":{"domain":[0,6.3],"range":[0,13.4],"nice":false},"axis":{"values":[0],"title":null}},"x2":{"datum":13.16},"y":{"field":"top","type":"quantitative","scale":{"domain":[0,660],"reverse":true,"nice":false,"zero":false},"axis":null},"y2":{"field":"bot"},"fill":{"field":"k","type":"nominal","scale":{"domain":["a","b"],"range":["#dae6f3","#f9dba6"]},"legend":null}}},
    {"data":{"name":"s"},"mark":{"type":"area","orient":"horizontal","clip":true,"fill":"#a0a0a0","stroke":"#6a6a6a","strokeWidth":0.6},"encoding":{"x":{"field":"Concentricystes","type":"quantitative","stack":null},"y":{"field":"d","type":"quantitative"}}},
    {"data":{"values":[{}]},"mark":{"type":"rule","color":"#8a8a8a","strokeWidth":1},"encoding":{"x":{"datum":0,"type":"quantitative"},"y":{"datum":0,"type":"quantitative"},"y2":{"datum":660}}},
    {"data":{"name":"tr"},"transform":[{"filter":"datum.t == 'Concentricystes'"}],"mark":{"type":"circle","color":"#000","size":16,"opacity":1},"encoding":{"x":{"datum":2.1,"type":"quantitative"},"y":{"field":"d","type":"quantitative"}}},
    {"data":{"name":"tmpb"},"mark":{"type":"rule","color":"#666","strokeWidth":0.8,"strokeDash":[3,3]},"encoding":{"x":{"datum":0,"type":"quantitative"},"x2":{"datum":13.16},"y":{"field":"d","type":"quantitative"}}},
    {"data":{"name":"hz"},"mark":{"type":"rule","color":"#e8262a","strokeWidth":4},"encoding":{"x":{"datum":0,"type":"quantitative"},"x2":{"datum":13.16},"y":{"field":"d","type":"quantitative"}}}
   ]},
   {"data":{"name":"s"},"mark":{"type":"line","clip":true,"color":"#7a7a7a","strokeWidth":0.7},"encoding":{"x":{"field":"Concentricystes","type":"quantitative","scale":{"domain":[0,0.63],"range":[0,13.4],"nice":false},"axis":null},"y":{"field":"d","type":"quantitative"},"order":{"field":"d","type":"quantitative"}}}
  ]},
 {"width":33,"height":666,"title":{"text":"Botryococcus","dx":-4,"offset":-30},"resolve":{"scale":{"x":"independent"}},
  "layer":[
   {"layer":[
    {"data":{"name":"bands"},"mark":{"type":"rect","strokeWidth":0},"encoding":{"x":{"datum":0,"type":"quantitative","scale":{"domain":[0,9],"range":[0,19.1],"nice":false},"axis":{"values":[0],"title":"%","titleX":30,"titleY":15,"titleBaseline":"middle","titleAlign":"center"}},"x2":{"datum":15.55},"y":{"field":"top","type":"quantitative","scale":{"domain":[0,660],"reverse":true,"nice":false,"zero":false},"axis":null},"y2":{"field":"bot"},"fill":{"field":"k","type":"nominal","scale":{"domain":["a","b"],"range":["#dae6f3","#f9dba6"]},"legend":null}}},
    {"data":{"name":"s"},"mark":{"type":"area","orient":"horizontal","clip":true,"fill":"#a0a0a0","stroke":"#6a6a6a","strokeWidth":0.6},"encoding":{"x":{"field":"Botryococcus","type":"quantitative","stack":null},"y":{"field":"d","type":"quantitative"}}},
    {"data":{"values":[{}]},"mark":{"type":"rule","color":"#8a8a8a","strokeWidth":1},"encoding":{"x":{"datum":0,"type":"quantitative"},"y":{"datum":0,"type":"quantitative"},"y2":{"datum":660}}},
    {"data":{"name":"tr"},"transform":[{"filter":"datum.t == 'Botryococcus'"}],"mark":{"type":"circle","color":"#000","size":16,"opacity":1},"encoding":{"x":{"datum":1.9,"type":"quantitative"},"y":{"field":"d","type":"quantitative"}}},
    {"data":{"name":"tmpb"},"mark":{"type":"rule","color":"#666","strokeWidth":0.8,"strokeDash":[3,3]},"encoding":{"x":{"datum":0,"type":"quantitative"},"x2":{"datum":15.55},"y":{"field":"d","type":"quantitative"}}},
    {"data":{"name":"hz"},"mark":{"type":"rule","color":"#e8262a","strokeWidth":4},"encoding":{"x":{"datum":0,"type":"quantitative"},"x2":{"datum":15.55},"y":{"field":"d","type":"quantitative"}}}
   ]},
   {"data":{"name":"s"},"mark":{"type":"line","clip":true,"color":"#7a7a7a","strokeWidth":0.7},"encoding":{"x":{"field":"Botryococcus","type":"quantitative","scale":{"domain":[0,0.9],"range":[0,19.1],"nice":false},"axis":null},"y":{"field":"d","type":"quantitative"},"order":{"field":"d","type":"quantitative"}}}
  ]},
 {"width":84,"height":666,
  "layer":[
   {"data":{"name":"bands"},"mark":{"type":"rect","strokeWidth":0},"encoding":{"x":{"datum":0,"type":"quantitative","scale":{"domain":[0,84],"nice":false},"axis":{"orient":"top","domain":false,"ticks":false,"labels":false,"title":"Analyses: S. Leroy","titleFontSize":14.5,"titleX":-362,"titleY":-97,"titleAlign":"left","titleBaseline":"alphabetic","titleAngle":0}},"x2":{"datum":84},"y":{"field":"top","type":"quantitative","scale":{"domain":[0,660],"reverse":true,"nice":false,"zero":false},"axis":null},"y2":{"field":"bot"},"fill":{"field":"k","type":"nominal","scale":{"domain":["a","b"],"range":["#dae6f3","#f9dba6"]},"legend":null}}},
   {"data":{"values":[{}]},"mark":{"type":"rule","color":"#999","strokeWidth":1},"encoding":{"x":{"datum":0,"type":"quantitative"},"y":{"datum":0,"type":"quantitative"},"y2":{"datum":660}}},
   {"data":{"name":"tmpb"},"mark":{"type":"rule","color":"#666","strokeWidth":0.8,"strokeDash":[3,3]},"encoding":{"x":{"datum":0,"type":"quantitative"},"x2":{"datum":16},"y":{"field":"d","type":"quantitative"}}},
   {"data":{"name":"tmpb"},"mark":{"type":"rule","color":"#777","strokeWidth":1},"encoding":{"x":{"datum":16,"type":"quantitative"},"x2":{"datum":70},"y":{"field":"d","type":"quantitative"}}},
   {"data":{"name":"tmpz"},"mark":{"type":"text","align":"left","baseline":"middle","fontSize":14,"color":"#000"},"encoding":{"x":{"datum":21,"type":"quantitative"},"y":{"field":"d","type":"quantitative"},"text":{"field":"z"}}},
   {"data":{"name":"hz"},"mark":{"type":"rule","color":"#e8262a","strokeWidth":4},"encoding":{"x":{"datum":0,"type":"quantitative"},"x2":{"datum":84},"y":{"field":"d","type":"quantitative"}}}
  ]},
 {"width":88,"height":666,"title":{"text":"Dinocyst concentration","dx":-4,"offset":-69},"resolve":{"scale":{"x":"independent"}},
  "layer":[
   {"layer":[
    {"data":{"name":"bands"},"mark":{"type":"rect","strokeWidth":0},"encoding":{"x":{"datum":0,"type":"quantitative","scale":{"domain":[0,21.7],"range":[0,73.6],"nice":false},"axis":{"values":[0,5,10,15,20],"labelExpr":"datum.value % 10 == 0 ? datum.label : ''","title":"x 10³ cysts/ ml","titleX":-4,"titleY":34,"titleAlign":"left","titleBaseline":"middle"}},"x2":{"datum":25.94},"y":{"field":"top","type":"quantitative","scale":{"domain":[0,660],"reverse":true,"nice":false,"zero":false},"axis":null},"y2":{"field":"bot"},"fill":{"field":"k","type":"nominal","scale":{"domain":["a","b"],"range":["#dae6f3","#f9dba6"]},"legend":null}}},
    {"data":{"name":"s"},"mark":{"type":"area","orient":"horizontal","clip":true,"fill":"#a0a0a0","stroke":"#6a6a6a","strokeWidth":0.6},"encoding":{"x":{"field":"Dinocyst","type":"quantitative","stack":null},"y":{"field":"d","type":"quantitative"}}},
    {"data":{"values":[{}]},"mark":{"type":"rule","color":"#000","strokeWidth":5},"encoding":{"x":{"datum":0,"type":"quantitative"},"y":{"datum":0,"type":"quantitative"},"y2":{"datum":660}}},
    {"data":{"name":"tmdb"},"mark":{"type":"rule","color":"#777","strokeWidth":0.8,"strokeDash":[3,3]},"encoding":{"x":{"datum":0,"type":"quantitative"},"x2":{"datum":25.94},"y":{"field":"d","type":"quantitative"}}},
    {"data":{"name":"hz"},"mark":{"type":"rule","color":"#e8262a","strokeWidth":4},"encoding":{"x":{"datum":0,"type":"quantitative"},"x2":{"datum":25.94},"y":{"field":"d","type":"quantitative"}}}
   ]},
   {"data":{"name":"s"},"mark":{"type":"line","clip":true,"color":"#7a7a7a","strokeWidth":0.7},"encoding":{"x":{"field":"Dinocyst","type":"quantitative","scale":{"domain":[0,2.17],"range":[0,73.6],"nice":false},"axis":null},"y":{"field":"d","type":"quantitative"},"order":{"field":"d","type":"quantitative"}}}
  ]},
 {"width":62,"height":666,"title":{"text":"Foraminifera %","dx":-2,"offset":-39},"resolve":{"scale":{"x":"independent"}},
  "layer":[
   {"layer":[
    {"data":{"name":"bands"},"mark":{"type":"rect","strokeWidth":0},"encoding":{"x":{"datum":0,"type":"quantitative","scale":{"domain":[0,28.9],"range":[0,47.7],"nice":false},"axis":{"values":[0,10,20],"labelExpr":"datum.value % 20 == 0 ? datum.label : ''","title":"%","titleX":68,"titleY":15,"titleBaseline":"middle","titleAlign":"center"}},"x2":{"datum":37.56},"y":{"field":"top","type":"quantitative","scale":{"domain":[0,660],"reverse":true,"nice":false,"zero":false},"axis":null},"y2":{"field":"bot"},"fill":{"field":"k","type":"nominal","scale":{"domain":["a","b"],"range":["#dae6f3","#f9dba6"]},"legend":null}}},
    {"data":{"name":"s"},"mark":{"type":"area","orient":"horizontal","clip":true,"fill":"#a0a0a0","stroke":"#6a6a6a","strokeWidth":0.6},"encoding":{"x":{"field":"Foraminifera","type":"quantitative","stack":null},"y":{"field":"d","type":"quantitative"}}},
    {"data":{"values":[{}]},"mark":{"type":"rule","color":"#8a8a8a","strokeWidth":1},"encoding":{"x":{"datum":0,"type":"quantitative"},"y":{"datum":0,"type":"quantitative"},"y2":{"datum":660}}},
    {"data":{"name":"tr"},"transform":[{"filter":"datum.t == 'Foraminifera'"}],"mark":{"type":"circle","color":"#000","size":16,"opacity":1},"encoding":{"x":{"datum":2.2,"type":"quantitative"},"y":{"field":"d","type":"quantitative"}}},
    {"data":{"name":"tmdb"},"mark":{"type":"rule","color":"#777","strokeWidth":0.8,"strokeDash":[3,3]},"encoding":{"x":{"datum":0,"type":"quantitative"},"x2":{"datum":37.56},"y":{"field":"d","type":"quantitative"}}},
    {"data":{"name":"hz"},"mark":{"type":"rule","color":"#e8262a","strokeWidth":4},"encoding":{"x":{"datum":0,"type":"quantitative"},"x2":{"datum":37.56},"y":{"field":"d","type":"quantitative"}}}
   ]},
   {"data":{"name":"s"},"mark":{"type":"line","clip":true,"color":"#7a7a7a","strokeWidth":0.7},"encoding":{"x":{"field":"Foraminifera","type":"quantitative","scale":{"domain":[0,2.89],"range":[0,47.7],"nice":false},"axis":null},"y":{"field":"d","type":"quantitative"},"order":{"field":"d","type":"quantitative"}}}
  ]},
 {"width":74,"height":666,
  "layer":[
   {"data":{"values":[{}]},"mark":{"type":"rule","color":"#999","strokeWidth":1},"encoding":{"x":{"datum":0,"type":"quantitative","scale":{"domain":[0,74],"nice":false},"axis":null},"y":{"datum":0,"type":"quantitative","scale":{"domain":[0,660],"reverse":true,"nice":false,"zero":false},"axis":null},"y2":{"datum":660}}},
   {"data":{"values":[{}]},"mark":{"type":"rect","fill":"transparent","stroke":"#aaa","strokeWidth":1},"encoding":{"x":{"datum":14,"type":"quantitative"},"x2":{"datum":61},"y":{"datum":0,"type":"quantitative"},"y2":{"datum":660}}},
   {"data":{"values":[{}]},"mark":{"type":"rule","color":"#bbb","strokeWidth":1},"encoding":{"x":{"datum":14,"type":"quantitative"},"x2":{"datum":61},"y":{"datum":20,"type":"quantitative"}}},
   {"data":{"name":"tmdb"},"mark":{"type":"rule","color":"#777","strokeWidth":0.8,"strokeDash":[3,3]},"encoding":{"x":{"datum":0,"type":"quantitative"},"x2":{"datum":14},"y":{"field":"d","type":"quantitative"}}},
   {"data":{"name":"tmdb"},"mark":{"type":"rule","color":"#000","strokeWidth":1},"encoding":{"x":{"datum":14,"type":"quantitative"},"x2":{"datum":66},"y":{"field":"d","type":"quantitative"}}},
   {"data":{"name":"tmdz"},"mark":{"type":"text","align":"left","baseline":"middle","fontSize":14,"color":"#000"},"encoding":{"x":{"datum":18,"type":"quantitative"},"y":{"field":"d","type":"quantitative"},"text":{"field":"z"}}}
  ]},
 {"width":191,"height":666,
  "title":{"text":"L. machaerophorum","subtitle":"process length","angle":0,"align":"center","baseline":"bottom","dx":67,"fontStyle":"italic","color":"#e8262a","subtitleColor":"#e8262a","subtitleFontSize":14,"subtitleFont":"Liberation Sans","subtitlePadding":3,"offset":-32},
  "resolve":{"scale":{"x":"independent"}},
  "layer":[
   {"layer":[
    {"data":{"name":"sal"},"mark":{"type":"rule","color":"#e8262a","strokeWidth":1.5},"encoding":{"x":{"field":"psl","type":"quantitative","scale":{"domain":[0,4.775],"nice":false},"axis":{"orient":"top","offset":0,"values":[0,0.5,1,1.5,2,2.5,3,3.5,4,4.5],"tickSize":5,"labelExpr":"datum.value % 1 == 0 ? datum.label : ''","domainColor":"#e8262a","domainWidth":3,"tickColor":"#e8262a","labelColor":"#e8262a","labelPadding":2,"title":"µm","titleColor":"#e8262a","titleX":164,"titleY":-31,"titleBaseline":"middle","titleAlign":"center"}},"x2":{"datum":0},"y":{"field":"d","type":"quantitative","scale":{"domain":[0,660],"reverse":true,"nice":false,"zero":false},"axis":{"orient":"left","domainColor":"#e8262a","domainWidth":2,"ticks":false,"labels":false,"title":"SSSₛᵤₘₘₑᵣ","titleAngle":0,"titleX":47,"titleY":718,"titleAlign":"center","titleBaseline":"middle","titleColor":"#000"}}}},
    {"data":{"name":"sal"},"mark":{"type":"line","color":"#e8262a","strokeWidth":1.5},"encoding":{"x":{"field":"psl","type":"quantitative"},"y":{"field":"d","type":"quantitative"},"order":{"field":"d","type":"quantitative"}}}
   ]},
   {"layer":[
    {"data":{"name":"sal"},"mark":{"type":"rule","color":"#000","strokeWidth":1},"encoding":{"x":{"field":"sss","type":"quantitative","scale":{"domain":[12.0,12.665],"range":[0,133],"nice":false,"zero":false},"axis":{"orient":"bottom","values":[12.0,12.1,12.2,12.3,12.4,12.5,12.6],"labelExpr":"(datum.value == 12.2 || datum.value == 12.4 || datum.value == 12.6) ? format(datum.value, '.1f') : ''","title":"psu","titleX":176,"titleY":15,"titleBaseline":"middle","titleAlign":"center"}},"x2":{"datum":12.0},"y":{"field":"d","type":"quantitative"}}},
    {"data":{"name":"sal"},"mark":{"type":"line","color":"#000","strokeWidth":1},"encoding":{"x":{"field":"sss","type":"quantitative"},"y":{"field":"d","type":"quantitative"},"order":{"field":"d","type":"quantitative"}}}
   ]}
  ]}
]
}
